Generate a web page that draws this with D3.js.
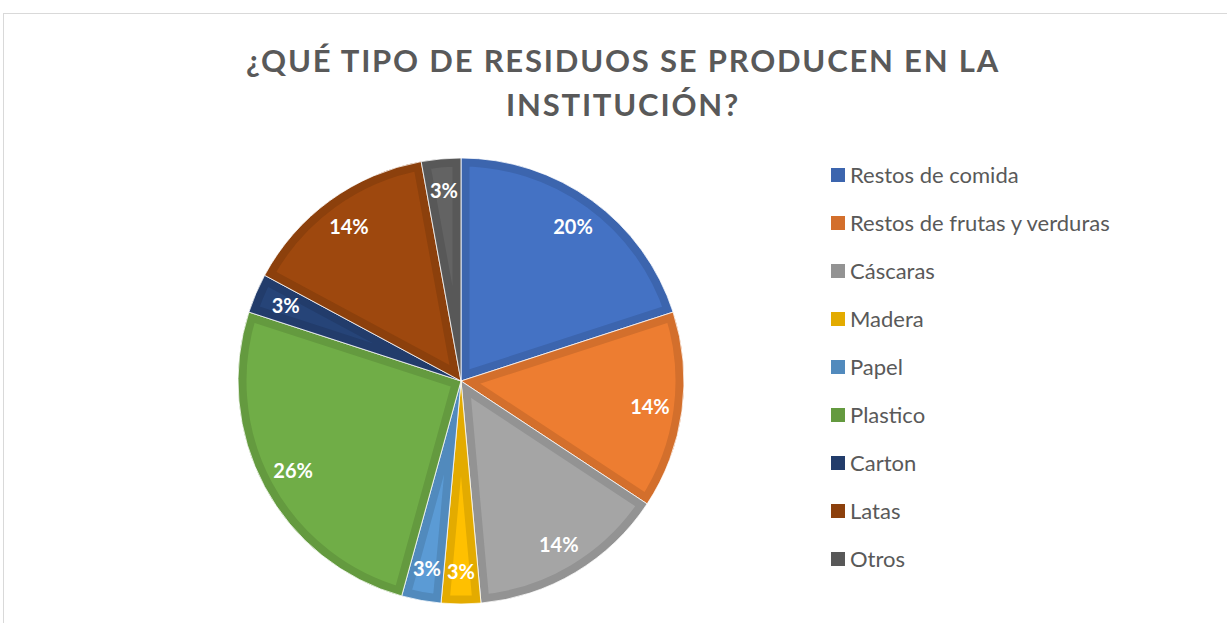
<!DOCTYPE html>
<html lang="es">
<head>
    <meta charset="UTF-8">
    <title>Residuos</title>
    <script src="https://d3js.org/d3.v7.min.js"></script>
    <style>
        body { margin: 0; background: #fff; }
        svg text { font-family: Lato, "Open Sans", sans-serif; }
        .title { font-size: 31px; font-weight: bold; fill: #595959; letter-spacing: 1.8px; }
        .label { font-size: 20px; font-weight: bold; fill: #fff; }
        .legend text { font-size: 22px; fill: #595959; }
    </style>
</head>
<body>
<svg width="1227" height="623"></svg>
<script>
    // Data
    const categories = ["Restos de comida", "Restos de frutas y verduras", "Cáscaras", "Madera",
        "Papel", "Plastico", "Carton", "Latas", "Otros"];
    const counts = [7, 5, 5, 1, 1, 9, 1, 5, 1];

    const palette = ["#4472C4", "#ED7D31", "#A5A5A5", "#FFC000", "#5B9BD5",
        "#70AD47", "#264478", "#9E480E", "#636363"];

    const svg = d3.select("svg");
    const cx = 461, cy = 381, radius = 223;

    // chart frame
    svg.append("rect")
        .attr("x", 3.5).attr("y", 13.5)
        .attr("width", 1300).attr("height", 700)
        .attr("fill", "none")
        .attr("stroke", "#D9D9D9");

    // title
    const title = svg.append("text")
        .attr("class", "title")
        .attr("text-anchor", "middle");
    title.append("tspan").attr("x", 623).attr("y", 72).text("¿QUÉ TIPO DE RESIDUOS SE PRODUCEN EN LA");
    title.append("tspan").attr("x", 623).attr("y", 116).text("INSTITUCIÓN?");

    const total = d3.sum(counts);
    const pie = d3.pie().sort(null).value(d => d);
    const arcs = pie(counts);
    const arc = d3.arc().innerRadius(0).outerRadius(radius);
    const labelArc = d3.arc().innerRadius(radius * 0.855).outerRadius(radius * 0.855);

    const g = svg.append("g").attr("transform", `translate(${cx},${cy})`);
    const defs = svg.append("defs");

    arcs.forEach((d, i) => {
        defs.append("clipPath").attr("id", "clip" + i)
            .append("path").attr("d", arc(d));
    });

    const slices = g.selectAll(".slice")
        .data(arcs)
        .enter().append("g")
        .attr("class", "slice");

    // slice fill with darker inner border
    slices.append("path")
        .attr("d", arc)
        .attr("fill", (d, i) => palette[i])
        .attr("stroke", (d, i) => d3.rgb(palette[i]).darker(0.33))
        .attr("stroke-width", 17)
        .attr("clip-path", (d, i) => "url(#clip" + i + ")");

    // thin white separators
    slices.append("path")
        .attr("d", arc)
        .attr("fill", "none")
        .attr("stroke", "#fff")
        .attr("stroke-width", 0.8);

    // percentage labels
    g.selectAll(".label")
        .data(arcs)
        .enter().append("text")
        .attr("class", "label")
        .attr("transform", d => `translate(${labelArc.centroid(d)})`)
        .attr("text-anchor", "middle")
        .attr("dy", "0.35em")
        .text(d => Math.round(d.value / total * 100) + "%");

    // legend
    const legend = svg.append("g").attr("class", "legend")
        .attr("transform", "translate(831,168)");
    const rows = legend.selectAll("g")
        .data(categories)
        .enter().append("g")
        .attr("transform", (d, i) => `translate(0,${i * 48})`);
    rows.append("rect")
        .attr("width", 14).attr("height", 14)
        .attr("fill", (d, i) => d3.rgb(palette[i]).darker(0.33));
    rows.append("text")
        .attr("x", 19).attr("y", 7)
        .attr("dy", "0.35em")
        .text(d => d);
</script>
</body>
</html>
